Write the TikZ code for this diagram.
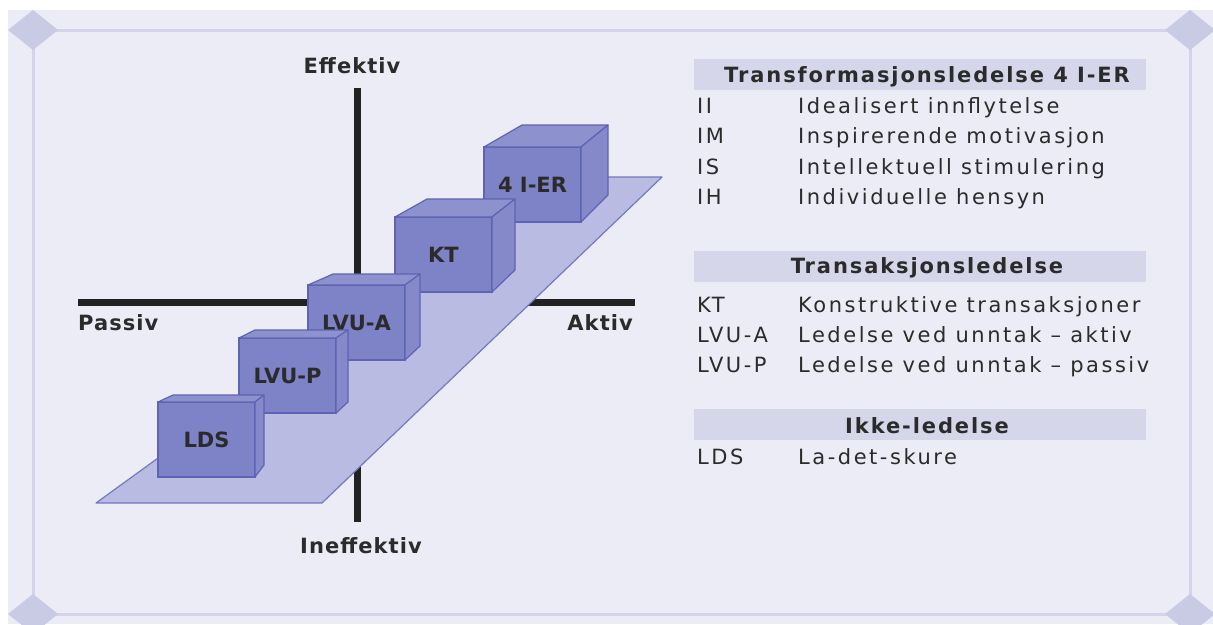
\documentclass[tikz,border=0pt]{standalone}
\usepackage{fontspec}
\setmainfont{DejaVu Sans}
\newfontfamily\lgfont[LetterSpace=12]{DejaVu Sans}
\newfontfamily\hdfont[LetterSpace=9]{DejaVu Sans}
\newfontfamily\axfont[LetterSpace=5]{DejaVu Sans}
\usetikzlibrary{calc}
\definecolor{bgcol}{HTML}{ECECF6}
\definecolor{framecol}{HTML}{D3D3EA}
\definecolor{diacol}{HTML}{C9CAE4}
\definecolor{txtcol}{HTML}{2B2B2B}
\definecolor{axcol}{HTML}{222222}
\definecolor{planefill}{HTML}{B9BBE2}
\definecolor{planeedge}{HTML}{7478C0}
\definecolor{frontfill}{HTML}{7E82C6}
\definecolor{topfill}{HTML}{8D91CE}
\definecolor{sidefill}{HTML}{8589CA}
\definecolor{cubeedge}{HTML}{5F63B3}
\definecolor{hdrfill}{HTML}{D5D6EA}
\tikzset{
  cubefront/.style={draw=cubeedge, fill=frontfill, line width=1.2pt, minimum width=97pt, minimum height=75pt, inner sep=0pt, outer sep=0pt, font=\fontsize{21}{25}\selectfont\bfseries, text=txtcol},
  cubetop/.style={draw=cubeedge, fill=topfill, line width=1.2pt, line join=round},
  cubeside/.style={draw=cubeedge, fill=sidefill, line width=1.2pt, line join=round},
  axisline/.style={draw=axcol, line width=7pt},
  axislabel/.style={font=\axfont\fontsize{21}{25}\selectfont\bfseries, text=txtcol, inner sep=0pt},
  hdr/.style={fill=hdrfill, minimum width=452pt, minimum height=31pt, inner sep=0pt},
  hdrtext/.style={font=\hdfont\fontsize{21}{25}\selectfont\bfseries, text=txtcol, inner sep=0pt, anchor=base},
  lgtext/.style={font=\lgfont\fontsize{21}{25}\selectfont, text=txtcol, inner sep=0pt, anchor=base west},
  diam/.style={fill=diacol},
}
\newcommand\drawcube[8]{%
  \node[cubefront, anchor=north west] (#1) at (#2,#3) {#8};
  \filldraw[cubetop] (#1.north west) -- (#1.north east) -- ($(#1.north west)+(#4+#6,#5)$) -- ($(#1.north west)+(#4,#5)$) -- cycle;
  \filldraw[cubeside] (#1.north east) -- ($(#1.north west)+(#4+#6,#5)$) -- ($(#1.north west)+(#4+#6,#5+#7)$) -- (#1.south east) -- cycle;
}
\begin{document}
\begin{tikzpicture}[x=1pt,y=-1pt]
\useasboundingbox (0,0) rectangle (1213,624);
\fill[white] (0,0) rectangle (1213,624);
\fill[bgcol] (8,10) rectangle (1213,624);
% frame
\draw[framecol, line width=3pt] (33,30) rectangle (1190,614);
\foreach \cx/\cy in {33/30, 1190/30, 33/614, 1190/614}{
  \fill[diam] (\cx-25,\cy) -- (\cx,\cy-20) -- (\cx+25,\cy) -- (\cx,\cy+20) -- cycle;
}
% axes
\coordinate (vtop) at (357,88);
\coordinate (vbot) at (357,522);
\coordinate (hleft) at (78,302);
\coordinate (hright) at (635,302);
\draw[axisline] (vtop) -- (vbot);
\draw[axisline] (hleft) -- (hright);
\node[axislabel, anchor=base] (eff) at (352,73) {Effektiv};
\node[axislabel, anchor=base] (ineff) at (361,553) {Ineffektiv};
\node[axislabel, anchor=base west] (pas) at (78,330) {Passiv};
\node[axislabel, anchor=base east] (akt) at (633,330) {Aktiv};
% plane
\filldraw[fill=planefill, draw=planeedge, line width=1.2pt, line join=round] (96,503) -- (322,503) -- (662,177) -- (546,177) -- cycle;
% cubes (back to front)
\drawcube{ier}{484}{147}{38}{-22}{86}{70}{4 I-ER}
\drawcube{kt}{395}{217}{32}{-18}{88}{71}{KT}
\drawcube{lvua}{308}{285}{25}{-11}{87}{72}{LVU-A}
\drawcube{lvup}{239}{338}{16}{-8}{93}{72}{LVU-P}
\drawcube{lds}{158}{402}{15}{-7}{91}{70}{LDS}
% legend
\node[hdr] (h1) at (920,74) {};
\node[hdrtext] (h1t) at (927,82) {Transformasjonsledelse 4 I-ER};
\node[lgtext] (a1) at (697,113) {II};
\node[lgtext] (d1) at (798,113) {Idealisert innflytelse};
\node[lgtext] (a2) at (697,143) {IM};
\node[lgtext] (d2) at (798,143) {Inspirerende motivasjon};
\node[lgtext] (a3) at (697,174) {IS};
\node[lgtext] (d3) at (798,174) {Intellektuell stimulering};
\node[lgtext] (a4) at (697,204) {IH};
\node[lgtext] (d4) at (798,204) {Individuelle hensyn};
\node[hdr] (h2) at (920,266) {};
\node[hdrtext] (h2t) at (927,273) {Transaksjonsledelse};
\node[lgtext] (a5) at (697,312) {KT};
\node[lgtext] (d5) at (798,312) {Konstruktive transaksjoner};
\node[lgtext] (a6) at (697,342) {LVU-A};
\node[lgtext] (d6) at (798,342) {Ledelse ved unntak – aktiv};
\node[lgtext] (a7) at (697,372) {LVU-P};
\node[lgtext] (d7) at (798,372) {Ledelse ved unntak – passiv};
\node[hdr] (h3) at (920,424) {};
\node[hdrtext] (h3t) at (927,433) {Ikke-ledelse};
\node[lgtext] (a8) at (697,464) {LDS};
\node[lgtext] (d8) at (798,464) {La-det-skure};
\end{tikzpicture}
\end{document}
